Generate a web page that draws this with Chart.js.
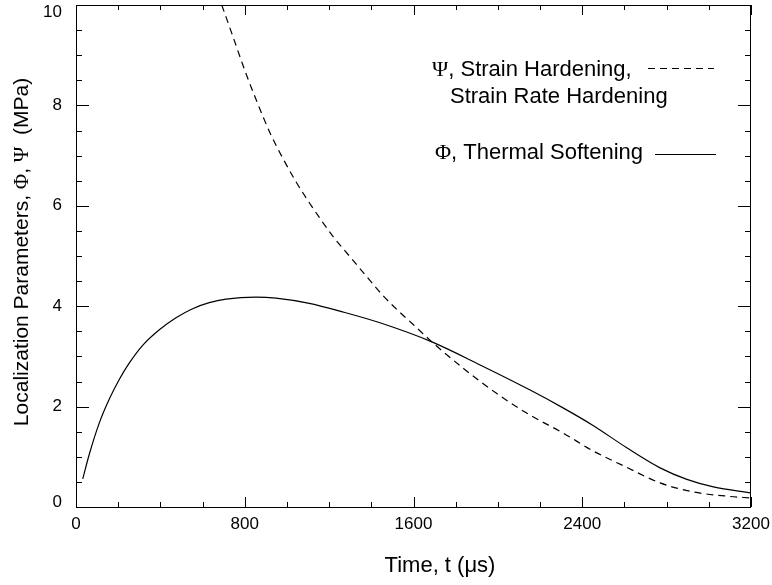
<!DOCTYPE html>
<html>
<head>
<meta charset="utf-8">
<script src="https://cdn.jsdelivr.net/npm/chart.js@4/dist/chart.umd.min.js"></script>
<style>
  html, body { margin: 0; padding: 0; background: #fff; }
</style>
</head>
<body>
<canvas id="chart" width="772" height="585"></canvas>
<script>
// values (t in microseconds, parameters in MPa)
const timePhi = [32, 63, 111, 158, 205, 253, 316, 395, 474, 553, 632, 711, 853, 948, 1100, 1270, 1441, 1687, 1916, 2153, 2311, 2453, 2611, 2769, 2896, 3022, 3200];
const phiValues = [0.56, 1.05, 1.68, 2.15, 2.54, 2.87, 3.22, 3.53, 3.77, 3.95, 4.07, 4.14, 4.18, 4.16, 4.06, 3.88, 3.67, 3.29, 2.83, 2.33, 1.97, 1.62, 1.18, 0.78, 0.55, 0.40, 0.28];

const timePsi = [691, 750, 800, 860, 920, 980, 1040, 1100, 1160, 1220, 1300, 1380, 1460, 1540, 1600, 1687, 1837, 1995, 2153, 2311, 2450, 2611, 2769, 2927, 3100, 3200];
const psiValues = [10.0, 9.3, 8.7, 8.05, 7.45, 6.95, 6.5, 6.1, 5.73, 5.38, 4.98, 4.58, 4.19, 3.86, 3.63, 3.29, 2.76, 2.26, 1.83, 1.47, 1.12, 0.79, 0.48, 0.30, 0.21, 0.18];

const xTickLabels = [0, 800, 1600, 2400, 3200];
const yTickLabels = [0, 2, 4, 6, 8, 10];
const xMinorTicks = [0, 200, 400, 600, 800, 1000, 1200, 1400, 1600, 1800, 2000, 2200, 2400, 2600, 2800, 3000, 3200];
const yMinorTicks = [0, 0.5, 1, 1.5, 2, 2.5, 3, 3.5, 4, 4.5, 5, 5.5, 6, 6.5, 7, 7.5, 8, 8.5, 9, 9.5, 10];

const SANS = '"Liberation Sans", Arial, Helvetica, sans-serif';
const SERIF = '"Liberation Serif", "Times New Roman", serif';

// draws pieces of text in different fonts one after another
function drawRuns(ctx, runs, x, y) {
  runs.forEach(([text, font]) => {
    ctx.font = font;
    ctx.fillText(text, x, y);
    x += ctx.measureText(text).width;
  });
}
function runsWidth(ctx, runs) {
  let w = 0;
  runs.forEach(([text, font]) => { ctx.font = font; w += ctx.measureText(text).width; });
  return w;
}

const framePlugin = {
  id: 'frame',
  afterDatasetsDraw(chart) {
    const { ctx, chartArea: a, scales: { x, y } } = chart;
    ctx.save();
    ctx.strokeStyle = '#000';
    ctx.lineWidth = 1;
    ctx.strokeRect(a.left + 0.5, a.top + 0.5, a.right - a.left - 1, a.bottom - a.top);

    ctx.beginPath();
    // inward ticks on all four sides
    xMinorTicks.forEach(v => {
      const px = Math.round(x.getPixelForValue(v)) + 0.5;
      const len = xTickLabels.includes(v) ? 10 : 5;
      ctx.moveTo(px, a.bottom); ctx.lineTo(px, a.bottom - len);
      ctx.moveTo(px, a.top); ctx.lineTo(px, a.top + len);
    });
    yMinorTicks.forEach(v => {
      const py = Math.round(y.getPixelForValue(v)) + 0.5;
      const len = yTickLabels.includes(v) ? 13 : 6;
      ctx.moveTo(a.left, py); ctx.lineTo(a.left + len, py);
      ctx.moveTo(a.right, py); ctx.lineTo(a.right - len, py);
    });
    ctx.stroke();
    ctx.restore();
  },
  afterDraw(chart) {
    const { ctx } = chart;
    ctx.save();
    ctx.fillStyle = '#000';
    ctx.textBaseline = 'alphabetic';
    ctx.textAlign = 'left';

    // x axis title
    const xt = [['Time, t (\u03bcs)', '22px ' + SANS]];
    drawRuns(ctx, xt, 440 - runsWidth(ctx, xt) / 2, 571.5);

    // y axis title, rotated
    const yt = [
      ['Localization Parameters, ', '21px ' + SANS],
      ['\u03a6', '21px ' + SERIF],
      [', ', '21px ' + SANS],
      ['\u03a8', '21px ' + SERIF],
      ['  (MPa)', '21px ' + SANS]
    ];
    ctx.save();
    ctx.translate(28, 252);
    ctx.rotate(-Math.PI / 2);
    drawRuns(ctx, yt, -runsWidth(ctx, yt) / 2, 0);
    ctx.restore();

    // legend
    drawRuns(ctx, [['\u03a8', '22px ' + SERIF], [', Strain Hardening,', '22px ' + SANS]], 432, 76);
    drawRuns(ctx, [['Strain Rate Hardening', '22px ' + SANS]], 450, 102.5);
    drawRuns(ctx, [['\u03a6', '22px ' + SERIF], [', Thermal Softening', '22px ' + SANS]], 435, 159);

    ctx.strokeStyle = '#000';
    ctx.lineWidth = 1.2;
    ctx.setLineDash([7, 5]);
    ctx.beginPath(); ctx.moveTo(648, 68.5); ctx.lineTo(714, 68.5); ctx.stroke();
    ctx.setLineDash([]);
    ctx.beginPath(); ctx.moveTo(655, 154.5); ctx.lineTo(716, 154.5); ctx.stroke();
    ctx.restore();
  }
};

new Chart(document.getElementById('chart'), {
  type: 'line',
  data: {
    datasets: [
      {
        label: 'Phi, Thermal Softening',
        data: timePhi.map((t, i) => ({ x: t, y: phiValues[i] })),
        borderColor: '#000',
        borderWidth: 1.2,
        pointRadius: 0,
        cubicInterpolationMode: 'monotone',
        fill: false
      },
      {
        label: 'Psi, Strain Hardening, Strain Rate Hardening',
        data: timePsi.map((t, i) => ({ x: t, y: psiValues[i] })),
        borderColor: '#000',
        borderWidth: 1.2,
        borderDash: [7, 5],
        pointRadius: 0,
        cubicInterpolationMode: 'monotone',
        fill: false
      }
    ]
  },
  options: {
    responsive: false,
    animation: false,
    devicePixelRatio: 1,
    layout: { padding: { top: 5, right: 21, left: 0, bottom: 0 } },
    plugins: { legend: { display: false }, tooltip: { enabled: false } },
    scales: {
      x: {
        type: 'linear',
        min: 0,
        max: 3200,
        grid: { display: false },
        border: { display: false },
        ticks: {
          color: '#000', font: { family: SANS, size: 17 }, padding: -1, maxRotation: 0, autoSkip: false,
          callback: v => String(v)
        },
        afterBuildTicks: s => { s.ticks = xTickLabels.map(v => ({ value: v })); },
        afterFit: s => { s.height = 78; s.paddingLeft = 0; s.paddingRight = 0; }
      },
      y: {
        type: 'linear',
        min: 0,
        max: 10,
        grid: { display: false },
        border: { display: false },
        ticks: {
          color: '#000', padding: 6, autoSkip: false,
          // the end labels sit inside the axis range, as in the original
          font: c => ({ family: SANS, size: 17, lineHeight: c.tick && c.tick.value === 10 ? 0.9 : (c.tick && c.tick.value === 0 ? 0.6 : 1.2) }),
          callback: v => v === 10 ? ['', '10'] : (v === 0 ? ['0', ''] : String(v))
        },
        afterBuildTicks: s => { s.ticks = yTickLabels.map(v => ({ value: v })); },
        afterFit: s => { s.width = 76; s.paddingTop = 0; s.paddingBottom = 0; }
      }
    }
  },
  plugins: [framePlugin]
});
</script>
</body>
</html>
